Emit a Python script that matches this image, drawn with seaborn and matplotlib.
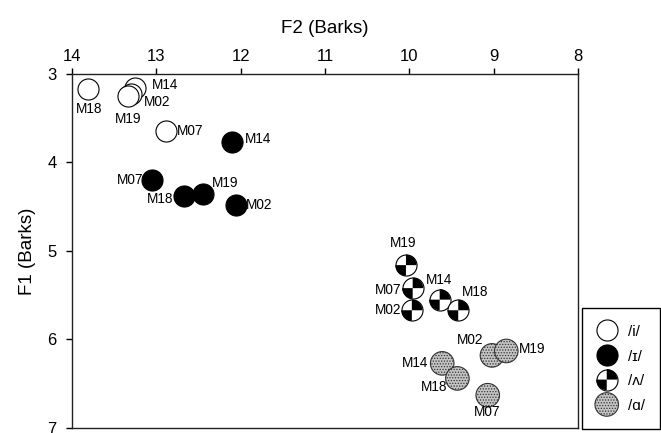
import numpy as np
import pandas as pd
import matplotlib
matplotlib.use('Agg')
import matplotlib.pyplot as plt
from matplotlib.path import Path
from matplotlib.legend_handler import HandlerTuple
import seaborn as sns

# vowel data (Barks)
vowels = ['/i/', '/ɪ/', '/ʌ/', '/ɑ/']

spk_i = ['M18', 'M14', 'M02', 'M19', 'M07']
f2_i = [13.81, 13.25, 13.30, 13.34, 12.89]
f1_i = [3.17, 3.16, 3.23, 3.25, 3.64]

spk_ih = ['M14', 'M07', 'M18', 'M19', 'M02']
f2_ih = [12.10, 13.05, 12.67, 12.45, 12.06]
f1_ih = [3.77, 4.20, 4.38, 4.36, 4.48]

spk_uh = ['M19', 'M07', 'M02', 'M14', 'M18']
f2_uh = [10.04, 9.96, 9.97, 9.64, 9.42]
f1_uh = [5.16, 5.42, 5.67, 5.55, 5.67]

spk_a = ['M02', 'M19', 'M14', 'M18', 'M07']
f2_a = [9.02, 8.85, 9.61, 9.43, 9.07]
f1_a = [6.18, 6.13, 6.27, 6.44, 6.63]

# label placement (pixel offsets dx, dy, alignment)
lab_i = [(1, -20, 'center'), (17, 3, 'left'), (13, -8, 'left'), (0, -23, 'center'), (11, 0, 'left')]
lab_ih = [(13, 3, 'left'), (-9, 0, 'right'), (-11, -3, 'right'), (9, 11, 'left'), (10, 0, 'left')]
lab_uh = [(-3, 22, 'center'), (-11, -2, 'right'), (-11, 0, 'right'), (-1, 20, 'center'), (17, 18, 'center')]
lab_a = [(-22, 15, 'center'), (13, 2, 'left'), (-14, 0, 'right'), (-10, -9, 'right'), (-1, -17, 'center')]

sns.set_style('ticks')
plt.rcParams['font.family'] = ['Liberation Sans', 'DejaVu Sans']
plt.rcParams['text.color'] = 'black'
plt.rcParams['axes.labelcolor'] = 'black'
plt.rcParams['xtick.color'] = 'black'
plt.rcParams['ytick.color'] = 'black'
plt.rcParams['hatch.color'] = '#6e6e6e'
plt.rcParams['hatch.linewidth'] = 0.6

fig = plt.figure(figsize=(6.61, 4.33), dpi=100)
ax = fig.add_axes([0.1089, 0.0116, 0.7655, 0.8176])

df_i = pd.DataFrame({'F2': f2_i, 'F1': f1_i, 'spk': spk_i})
df_ih = pd.DataFrame({'F2': f2_ih, 'F1': f1_ih, 'spk': spk_ih})
df_uh = pd.DataFrame({'F2': f2_uh, 'F1': f1_uh, 'spk': spk_uh})
df_a = pd.DataFrame({'F2': f2_a, 'F1': f1_a, 'spk': spk_a})

size = 230
quad = Path.make_compound_path(Path.wedge(0, 90), Path.wedge(180, 270))

sns.scatterplot(data=df_i, x='F2', y='F1', s=size, color='white', edgecolor='black', linewidth=0.8, ax=ax, zorder=3)
h_i = ax.collections[-1]
sns.scatterplot(data=df_ih, x='F2', y='F1', s=size, color='black', edgecolor='black', linewidth=0.8, ax=ax, zorder=3)
h_ih = ax.collections[-1]

# /ʌ/ drawn point by point so overlapping quarters stack correctly
h_uh = None
for k in range(len(df_uh)):
    row = df_uh.iloc[[k]]
    sns.scatterplot(data=row, x='F2', y='F1', s=size, color='white', edgecolor='black', linewidth=0.8, ax=ax, zorder=3)
    c1 = ax.collections[-1]
    sns.scatterplot(data=row, x='F2', y='F1', s=size, marker=quad, color='black', edgecolor='none', linewidth=0, ax=ax, zorder=3)
    c2 = ax.collections[-1]
    if h_uh is None:
        h_uh = (c1, c2)

sns.scatterplot(data=df_a, x='F2', y='F1', s=size * 1.25, color='#c4c4c4', edgecolor='#333333', linewidth=0.8,
                hatch='......', ax=ax, zorder=3)
h_a = ax.collections[-1]

for d, labs in [(df_i, lab_i), (df_ih, lab_ih), (df_uh, lab_uh), (df_a, lab_a)]:
    for (x, y, s), (dx, dy, ha) in zip(d[['F2', 'F1', 'spk']].values, labs):
        ax.annotate(s, (x, y), xytext=(dx, dy), textcoords='offset pixels',
                    ha=ha, va='center', fontsize=9.8, zorder=4)

ax.set_xlim(14, 8)
ax.set_ylim(7, 3)
ax.set_xticks([14, 13, 12, 11, 10, 9, 8])
ax.set_yticks([3, 4, 5, 6, 7])
ax.xaxis.tick_top()
ax.xaxis.set_label_position('top')
ax.set_xlabel('F2 (Barks)', fontsize=13.5, labelpad=12)
ax.set_ylabel('F1 (Barks)', fontsize=13.5, labelpad=8)
ax.tick_params(axis='x', labelsize=12, length=4, width=1, pad=3, direction='out')
ax.tick_params(axis='y', labelsize=12, length=4, width=1, pad=7, direction='out')
for sp in ax.spines.values():
    sp.set_visible(True)
    sp.set_linewidth(1)
    sp.set_color('#222222')

leg = fig.legend([h_i, h_ih, h_uh, h_a], vowels, loc='center', bbox_to_anchor=(0.940, 0.150),
                 handler_map={tuple: HandlerTuple(ndivide=1)}, fontsize=11,
                 frameon=True, fancybox=False, edgecolor='black', framealpha=1,
                 borderpad=1.0, handlelength=1.2, handleheight=1.2, handletextpad=0.8,
                 labelspacing=0.58, scatterpoints=1)
leg.get_frame().set_linewidth(1)

fig.savefig('out.png', dpi=100)
